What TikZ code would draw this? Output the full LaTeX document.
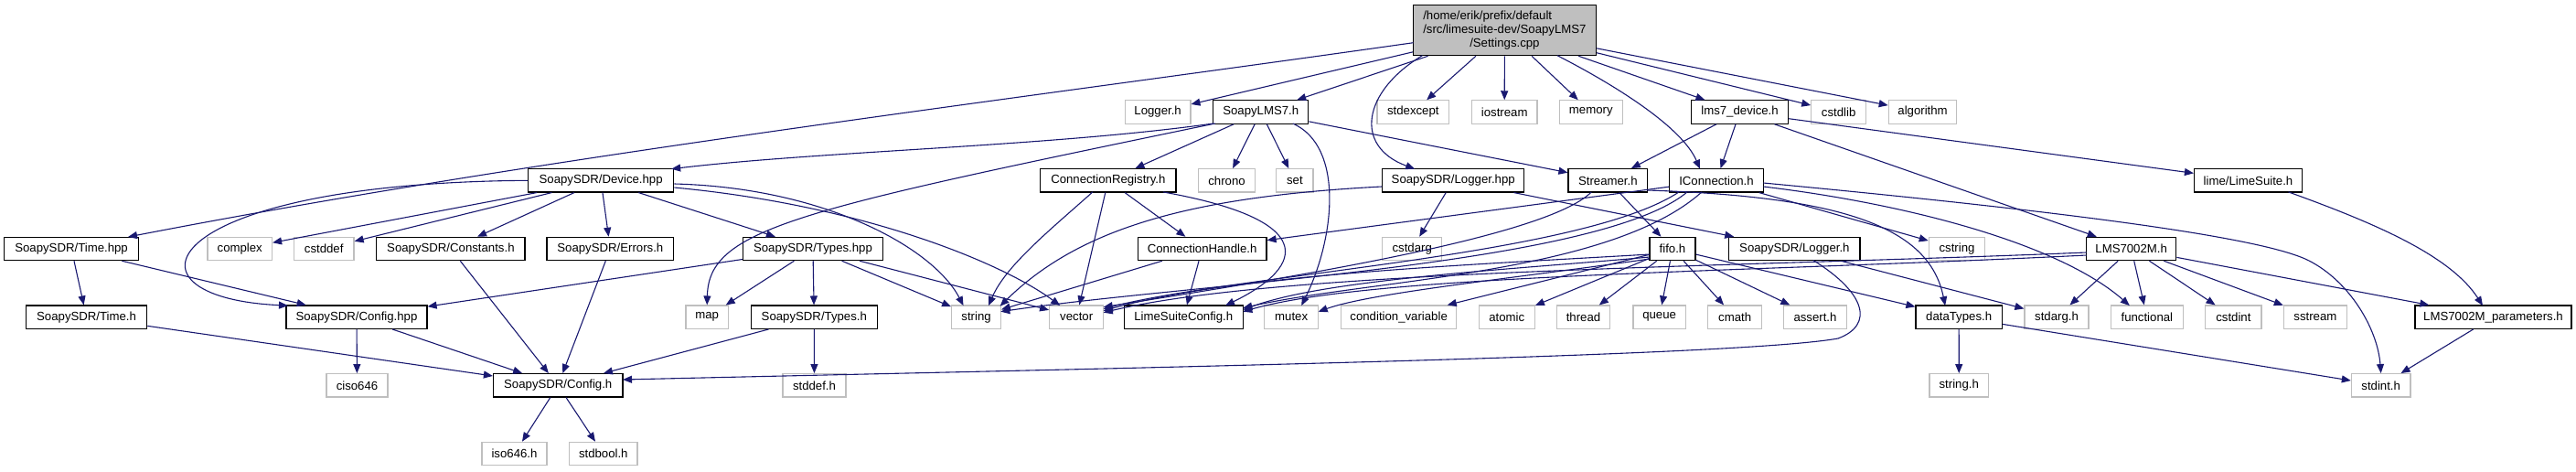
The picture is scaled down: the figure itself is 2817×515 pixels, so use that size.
\documentclass[tikz,border=0pt]{standalone}
\usepackage{fontspec}
\setmainfont{Liberation Sans}
\usetikzlibrary{arrows.meta}
\definecolor{edgeblue}{HTML}{191970}
\definecolor{extgray}{HTML}{BFBFBF}
\definecolor{rootgray}{HTML}{BFBFBF}
\begin{document}
\begin{tikzpicture}[x=1pt,y=-1pt,
  box/.style={rectangle, inner sep=0pt, minimum height=25.3pt, font=\fontsize{13.2}{14.7}\selectfont},
  doc/.style={box, draw=black, line width=1.2pt},
  ext/.style={box, draw=extgray, line width=1.2pt},
  bw/.style={minimum width=#1pt},
  dep/.style={draw=edgeblue, line width=1.1pt, -{Triangle[length=10pt,width=8pt]}}]
\useasboundingbox (0,0) rectangle (2817,515);

% root
\node[doc, fill=rootgray, minimum width=199.8pt, minimum height=55pt, align=center] (root) at (1645.4,33.2)
  {\rlap{/home/erik/prefix/default}\phantom{/src/limesuite-dev/SoapyLMS7}\\/src/limesuite-dev/SoapyLMS7\\/Settings.cpp};

% row 1
\node[ext,bw=71.6] (loggerh) at (1266.1,122.5) {Logger.h};
\node[doc,bw=104.1] (lms7) at (1378.75,122.5) {SoapyLMS7.h};
\node[ext,bw=78.6] (stdexcept) at (1545.3,122.5) {stdexcept};
\node[ext,bw=71.6] (iostream) at (1645.2,122.5) {iostream};
\node[ext,bw=68.9] (memory) at (1739.75,122.5) {memory};
\node[doc,bw=106.1] (lmsdev) at (1902.55,122.5) {lms7\_device.h};
\node[ext,bw=59.7] (cstdlib) at (2010.65,122.5) {cstdlib};
\node[ext,bw=74.5] (algorithm) at (2102.55,122.5) {algorithm};

% row 2
\node[doc,bw=159.1] (device) at (657.15,197.3) {SoapySDR/Device.hpp};
\node[doc,bw=148.3] (creg) at (1211.85,197.3) {ConnectionRegistry.h};
\node[ext,bw=61.6] (chrono) at (1341.5,197.3) {chrono};
\node[ext,bw=40.3] (set) at (1415.85,197.3) {set};
\node[doc,bw=155] (loggerhpp) at (1589.2,197.3) {SoapySDR/Logger.hpp};
\node[doc,bw=86.7] (streamer) at (1758.35,197.3) {Streamer.h};
\node[doc,bw=102.6] (iconn) at (1877,197.3) {IConnection.h};
\node[doc,bw=118] (limesuite) at (2458.5,197.3) {lime/LimeSuite.h};

% row 3
\node[doc,bw=146.9] (timehpp) at (78.05,272) {SoapySDR/Time.hpp};
\node[ext,bw=70.5] (complex) at (262.25,272) {complex};
\node[ext,bw=65.6] (cstddef) at (354.2,272) {cstddef};
\node[doc,bw=162.2] (constants) at (492.9,272) {SoapySDR/Constants.h};
\node[doc,bw=138.7] (errors) at (667.35,272) {SoapySDR/Errors.h};
\node[doc,bw=152.9] (typeshpp) at (888.95,272) {SoapySDR/Types.hpp};
\node[doc,bw=140.7] (chandle) at (1314.65,272) {ConnectionHandle.h};
\node[ext,bw=65] (cstdarg) at (1544.2,272) {cstdarg};
\node[doc,bw=50] (fifo) at (1829,272) {fifo.h};
\node[doc,bw=143.3] (soapyloggerh) at (1962.35,272) {SoapySDR/Logger.h};
\node[ext,bw=61.4] (cstring) at (2140,272) {cstring};
\node[doc,bw=98.3] (lms7002m) at (2330.65,272) {LMS7002M.h};

% row 4
\node[doc,bw=132.2] (timeh) at (94.6,346.7) {SoapySDR/Time.h};
\node[doc,bw=154] (confighpp) at (390,346.7) {SoapySDR/Config.hpp};
\node[ext,bw=46.4] (map) at (773.2,346.7) {map};
\node[doc,bw=138.2] (typesh) at (890.3,346.7) {SoapySDR/Types.h};
\node[ext,bw=53.7] (string) at (1067.55,346.7) {string};
\node[ext,bw=59] (vector) at (1177.2,346.7) {vector};
\node[doc,bw=130] (lsc) at (1294.3,346.7) {LimeSuiteConfig.h};
\node[ext,bw=59] (mutex) at (1412.2,346.7) {mutex};
\node[ext,bw=126.1] (condvar) at (1529.65,346.7) {condition\_variable};
\node[ext,bw=61] (atomic) at (1647.8,346.7) {atomic};
\node[ext,bw=58.4] (thread) at (1731.5,346.7) {thread};
\node[ext,bw=57.3] (queue) at (1814.65,346.7) {queue};
\node[ext,bw=58.9] (cmath) at (1897.15,346.7) {cmath};
\node[ext,bw=68.6] (asserth) at (1985,346.7) {assert.h};
\node[doc,bw=94.3] (datatypes) at (2142.15,346.7) {dataTypes.h};
\node[ext,bw=70] (stdargh) at (2249,346.7) {stdarg.h};
\node[ext,bw=78.7] (functional) at (2347.85,346.7) {functional};
\node[ext,bw=61.2] (cstdint) at (2442.4,346.7) {cstdint};
\node[ext,bw=69] (sstream) at (2531.9,346.7) {sstream};
\node[doc,bw=171] (lmsparams) at (2726.5,346.7) {LMS7002M\_parameters.h};

% row 5
\node[ext,bw=67] (ciso646) at (390.5,421.3) {ciso646};
\node[doc,bw=141.5] (configh) at (610.25,421.3) {SoapySDR/Config.h};
\node[ext,bw=69] (stddefh) at (890.5,421.3) {stddef.h};
\node[ext,bw=64.5] (stringh) at (2142.25,421.3) {string.h};
\node[ext,bw=64.6] (stdinth) at (2603.7,421.3) {stdint.h};

% row 6
\node[ext,bw=71] (iso646) at (562.5,496) {iso646.h};
\node[ext,bw=74.4] (stdbool) at (659.8,496) {stdbool.h};

% straight connectors
\foreach \a/\b in {root/loggerh, root/lms7, root/stdexcept, root/iostream, root/memory,
  root/lmsdev, root/cstdlib, root/algorithm,
  lms7/creg, lms7/chrono, lms7/set, lms7/streamer,
  device/complex, device/cstddef, device/constants, device/errors, device/typeshpp,
  timehpp/timeh, timehpp/confighpp, timeh/configh, confighpp/ciso646, confighpp/configh,
  constants/configh, errors/configh,
  typeshpp/confighpp, typeshpp/map, typeshpp/typesh, typeshpp/string, typeshpp/vector,
  typesh/configh, typesh/stddefh, configh/iso646, configh/stdbool,
  creg/vector, creg/chandle, chandle/string, chandle/lsc,
  loggerhpp/cstdarg, loggerhpp/soapyloggerh, streamer/fifo,
  iconn/chandle, iconn/cstring,
  fifo/condvar, fifo/atomic, fifo/thread, fifo/queue, fifo/cmath, fifo/asserth, fifo/datatypes,
  soapyloggerh/stdargh, datatypes/stringh, datatypes/stdinth,
  lms7002m/stdargh, lms7002m/functional, lms7002m/cstdint, lms7002m/sstream, lms7002m/lmsparams,
  lmsparams/stdinth,
  lmsdev/streamer, lmsdev/iconn, lmsdev/lms7002m, lmsdev/limesuite}
  \draw[dep] (\a) -- (\b);

% curved connectors
\draw[dep] ([shift={(-99.9,13.5)}]root.center) .. controls (1100,110) and (600,170) .. ([shift={(62,-13)}]timehpp.center);
\draw[dep] ([shift={(-90,27.5)}]root.center) .. controls (1490,100) and (1480,160) .. ([shift={(-42,-12.6)}]loggerhpp.center);
\draw[dep] ([shift={(57.6,27.5)}]root.center) .. controls (1770,95) and (1840,140) .. ([shift={(-18,-12.6)}]iconn.center);
\draw[dep] ([shift={(-52,12.5)}]lms7.center) .. controls (1150,160) and (900,165) .. ([shift={(77,-12.6)}]device.center);
\draw[dep] ([shift={(-50,12.5)}]lms7.center) .. controls (870,230) and (775,250) .. (map.north);
\draw[dep] ([shift={(35,12.5)}]lms7.center) .. controls (1470,160) and (1460,260) .. ([shift={(11,-12.6)}]mutex.center);
\draw[dep] (device.west) .. controls (170,200) and (120,325) .. ([shift={(-75,-12.6)}]confighpp.center);
\draw[dep] ([shift={(0,3.7)}]device.east) .. controls (900,205) and (1020,270) .. ([shift={(-14,-12.6)}]string.center);
\draw[dep] ([shift={(0,7.7)}]device.east) .. controls (950,225) and (1100,290) .. ([shift={(-18,-12.6)}]vector.center);
\draw[dep] ([shift={(-17,12.6)}]creg.center) .. controls (1150,250) and (1100,290) .. ([shift={(13.5,-12.6)}]string.center);
\draw[dep] ([shift={(60,12.6)}]creg.center) .. controls (1440,240) and (1430,290) .. ([shift={(45.7,-12.6)}]lsc.center);
\draw[dep] ([shift={(0,6.7)}]loggerhpp.west) .. controls (1300,215) and (1180,250) .. ([shift={(26,-12)}]string.center);
\draw[dep] ([shift={(43.3,10.7)}]streamer.center) .. controls (2020,215) and (2110,250) .. ([shift={(-15,-12.6)}]datatypes.center);
\draw[dep] ([shift={(-18,12.6)}]streamer.center) .. controls (1690,260) and (1400,305) .. ([shift={(29.5,-11)}]vector.center);
\draw[dep] ([shift={(-32,12.6)}]iconn.center) .. controls (1750,290) and (1300,310) .. ([shift={(26.8,-6)}]string.center);
\draw[dep] ([shift={(-41,12.6)}]iconn.center) .. controls (1730,280) and (1350,300) .. ([shift={(29.5,-9)}]vector.center);
\draw[dep] ([shift={(-16,12.6)}]iconn.center) .. controls (1760,300) and (1500,305) .. ([shift={(65,-10)}]lsc.center);
\draw[dep] ([shift={(-25,6)}]fifo.center) .. controls (1600,290) and (1350,300) .. ([shift={(29.5,-7)}]vector.center);
\draw[dep] ([shift={(-25,9)}]fifo.center) .. controls (1650,295) and (1450,305) .. ([shift={(65,-8)}]lsc.center);
\draw[dep] ([shift={(-25,11)}]fifo.center) .. controls (1650,305) and (1500,320) .. ([shift={(29.5,-6)}]mutex.center);
\draw[dep] ([shift={(-49,4)}]lms7002m.center) .. controls (1900,292) and (1400,295) .. ([shift={(29.5,-5)}]vector.center);
\draw[dep] ([shift={(-49,7)}]lms7002m.center) .. controls (1900,298) and (1500,300) .. ([shift={(65,-6)}]lsc.center);
\draw[dep] ([shift={(51.3,6.7)}]iconn.center) .. controls (2080,222) and (2250,265) .. ([shift={(-19,-12.6)}]functional.center);
\draw[dep] ([shift={(51.3,2.7)}]iconn.center) .. controls (2300,235) and (2480,262) .. (2525,285) .. controls (2570,308) and (2600,360) .. (stdinth.north);
\draw[dep] ([shift={(20.6,12.6)}]soapyloggerh.center) .. controls (2040,320) and (2050,355) .. (2010,370) .. controls (1900,390) and (1200,403) .. ([shift={(70.75,-6.3)}]configh.center);
\draw[dep] ([shift={(44,12.6)}]limesuite.center) .. controls (2600,245) and (2680,280) .. ([shift={(-11.5,-12.6)}]lmsparams.center);
\end{tikzpicture}
\end{document}
